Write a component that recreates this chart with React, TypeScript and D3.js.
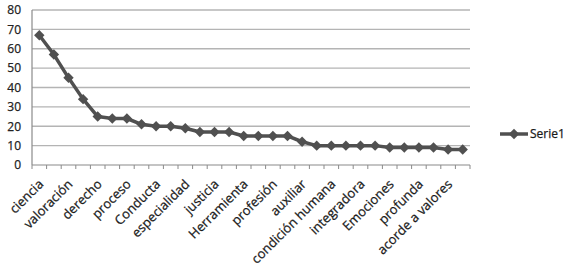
import React from "react";
import * as d3 from "d3";

const values: number[] = [67, 57, 45, 34, 25, 24, 24, 21, 20, 20, 19, 17, 17, 17, 15, 15, 15, 15, 12, 10, 10, 10, 10, 10, 9, 9, 9, 9, 8, 8];
const shownLabels: string[] = ["ciencia", "valoración", "derecho", "proceso", "Conducta", "especialidad", "justicia", "Herramienta", "profesión", "auxiliar", "condición humana", "integradora", "Emociones", "profunda", "acorde a valores"];
const yTicks: number[] = [0, 10, 20, 30, 40, 50, 60, 70, 80];
const seriesName = "Serie1";

const W = 568, H = 267;
const left = 32, right = 470, top = 10, bottom = 165;
const font = "'Open Sans', 'Liberation Sans', sans-serif";

export default function App() {
  const idx = values.map((_, i) => i);
  const x = d3.scaleBand<number>().domain(idx).range([left, right]);
  const y = d3.scaleLinear().domain([0, 80]).range([bottom, top]);
  const line = d3.line<number>().x((_, i) => x(i)! + x.bandwidth() / 2).y((d) => y(d));
  const diamond = (cx: number, cy: number, r = 5.2) =>
    `M${cx},${cy - r}L${cx + r},${cy}L${cx},${cy + r}L${cx - r},${cy}Z`;
  const color = "#505050";
  const boundaries = d3.range(values.length + 1).map((i) => left + i * x.bandwidth());
  return (
    <svg width={W} height={H} style={{ position: "absolute", left: 0, top: 0, background: "#fff" }}>
      {yTicks.map((t) => (
        <g key={t}>
          {t > 0 && <line x1={left} x2={right} y1={y(t)} y2={y(t)} stroke="#b4b4b4" strokeWidth={1.3} />}
          <text x={21} y={y(t)} dy="0.36em" textAnchor="end" fontFamily={font} fontSize={12} fill="#222" stroke="#222" strokeWidth={0.25}>{t}</text>
        </g>
      ))}
      <line x1={left} x2={left} y1={top} y2={bottom} stroke="#8a8a8a" strokeWidth={1.2} />
      <line x1={left} x2={right} y1={bottom} y2={bottom} stroke="#8a8a8a" strokeWidth={1.2} />
      {boundaries.map((bx, i) => (
        <line key={i} x1={bx} x2={bx} y1={bottom} y2={bottom + 4} stroke="#8a8a8a" strokeWidth={1} />
      ))}
      {shownLabels.map((lab, k) => {
        const i = k * 2;
        const cx = x(i)! + x.bandwidth() / 2;
        const ax = cx + 5, ay = bottom + 20;
        return (
          <text key={lab} x={ax} y={ay} textAnchor="end" transform={`rotate(-45 ${ax} ${ay})`} fontFamily={font} fontSize={13} fill="#1a1a1a" stroke="#1a1a1a" strokeWidth={0.25}>{lab}</text>
        );
      })}
      <path d={line(values)!} fill="none" stroke={color} strokeWidth={3.5} strokeLinejoin="round" />
      {values.map((v, i) => (
        <path key={i} d={diamond(x(i)! + x.bandwidth() / 2, y(v))} fill={color} />
      ))}
      <line x1={500} x2={528} y1={134} y2={134} stroke={color} strokeWidth={3.5} />
      <path d={diamond(514, 134)} fill={color} />
      <text x={530} y={134} dy="0.36em" fontFamily={font} fontSize={12} fill="#1a1a1a" stroke="#1a1a1a" strokeWidth={0.25}>{seriesName}</text>
    </svg>
  );
}
